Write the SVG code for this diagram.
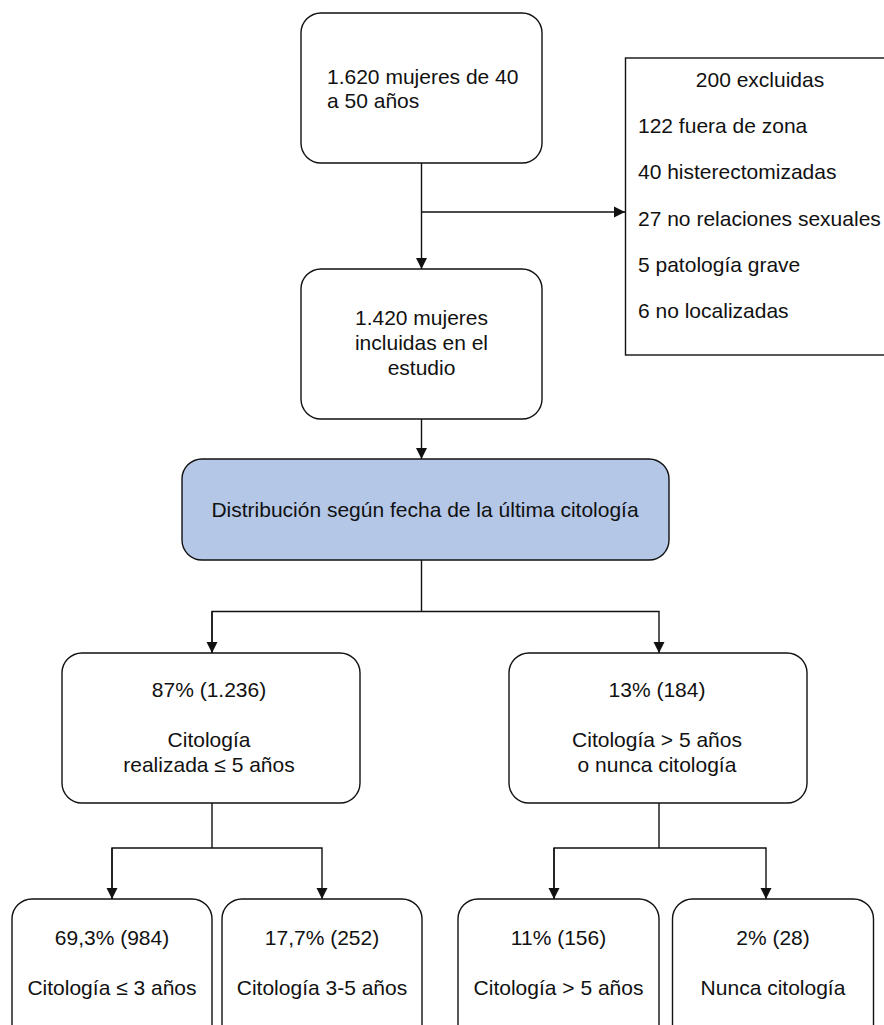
<svg xmlns="http://www.w3.org/2000/svg" width="884" height="1025" viewBox="0 0 884 1025">
<style>
.box{fill:#fff;stroke:#111;stroke-width:1.4}
.blue{fill:#b4c7e7;stroke:#111;stroke-width:1.4}
.t{font-family:"Liberation Sans",Arial,Helvetica,sans-serif;font-size:21px;fill:#111}
.c{text-anchor:middle}
.ln{fill:none;stroke:#111;stroke-width:1.4}
</style>
<defs>
<marker id="ah" markerUnits="userSpaceOnUse" markerWidth="12" markerHeight="12" refX="11" refY="6" orient="auto">
<path d="M0,0.5 L11,6 L0,11.5 z" fill="#111"/>
</marker>
</defs>
<rect width="884" height="1025" fill="#fff"/>
<g id="connectors">
<path class="ln" d="M421.5,163 V269" marker-end="url(#ah)"/>
<path class="ln" d="M421.5,212 H625" marker-end="url(#ah)"/>
<path class="ln" d="M421.5,419 V459" marker-end="url(#ah)"/>
<path class="ln" d="M421.5,560 V611.5"/>
<path class="ln" d="M212,653 V611.5 H659 V653" marker-end="url(#ah)"/>
<path class="ln" d="M212,611.5 V653" marker-end="url(#ah)"/>
<path class="ln" d="M212,803 V848"/>
<path class="ln" d="M112,899 V848 H322 V899" marker-end="url(#ah)"/>
<path class="ln" d="M112,848 V899" marker-end="url(#ah)"/>
<path class="ln" d="M659,803 V848"/>
<path class="ln" d="M554,899 V848 H766 V899" marker-end="url(#ah)"/>
<path class="ln" d="M554,848 V899" marker-end="url(#ah)"/>
</g>
<g id="n-total">
<rect class="box" x="301" y="13" width="241" height="150" rx="20"/>
<text class="t" x="327" y="84">1.620 mujeres de 40</text>
<text class="t" x="327" y="108">a 50 años</text>
</g>
<g id="n-excluidas">
<rect class="box" x="625.5" y="58" width="270" height="297"/>
<text class="t c" x="760" y="87">200 excluidas</text>
<text class="t" x="638" y="133">122 fuera de zona</text>
<text class="t" x="638" y="179">40 histerectomizadas</text>
<text class="t" x="638" y="226">27 no relaciones sexuales</text>
<text class="t" x="638" y="272">5 patología grave</text>
<text class="t" x="638" y="318">6 no localizadas</text>
</g>
<g id="n-incluidas">
<rect class="box" x="301" y="269" width="241" height="150" rx="20"/>
<text class="t c" x="421.5" y="325">1.420 mujeres</text>
<text class="t c" x="421.5" y="350">incluidas en el</text>
<text class="t c" x="421.5" y="375">estudio</text>
</g>
<g id="n-distribucion">
<rect class="blue" x="182" y="459" width="487" height="101" rx="20"/>
<text class="t c" x="425" y="517">Distribución según fecha de la última citología</text>
</g>
<g id="n-87">
<rect class="box" x="62" y="653" width="298" height="150" rx="20"/>
<text class="t c" x="209" y="697">87% (1.236)</text>
<text class="t c" x="209" y="747">Citología</text>
<text class="t c" x="209" y="772">realizada ≤ 5 años</text>
</g>
<g id="n-13">
<rect class="box" x="509" y="653" width="298" height="150" rx="20"/>
<text class="t c" x="657" y="697">13% (184)</text>
<text class="t c" x="657" y="747">Citología &gt; 5 años</text>
<text class="t c" x="657" y="772">o nunca citología</text>
</g>
<g id="n-69">
<rect class="box" x="12" y="899" width="200" height="150" rx="20"/>
<text class="t c" x="112" y="945">69,3% (984)</text>
<text class="t c" x="112" y="995">Citología ≤ 3 años</text>
</g>
<g id="n-17">
<rect class="box" x="222" y="899" width="200" height="150" rx="20"/>
<text class="t c" x="322" y="945">17,7% (252)</text>
<text class="t c" x="322" y="995">Citología 3-5 años</text>
</g>
<g id="n-11">
<rect class="box" x="458" y="899" width="201" height="150" rx="20"/>
<text class="t c" x="558.5" y="945">11% (156)</text>
<text class="t c" x="558.5" y="995">Citología &gt; 5 años</text>
</g>
<g id="n-2">
<rect class="box" x="672.5" y="899" width="201" height="150" rx="20"/>
<text class="t c" x="773" y="945">2% (28)</text>
<text class="t c" x="773" y="995">Nunca citología</text>
</g>
</svg>
